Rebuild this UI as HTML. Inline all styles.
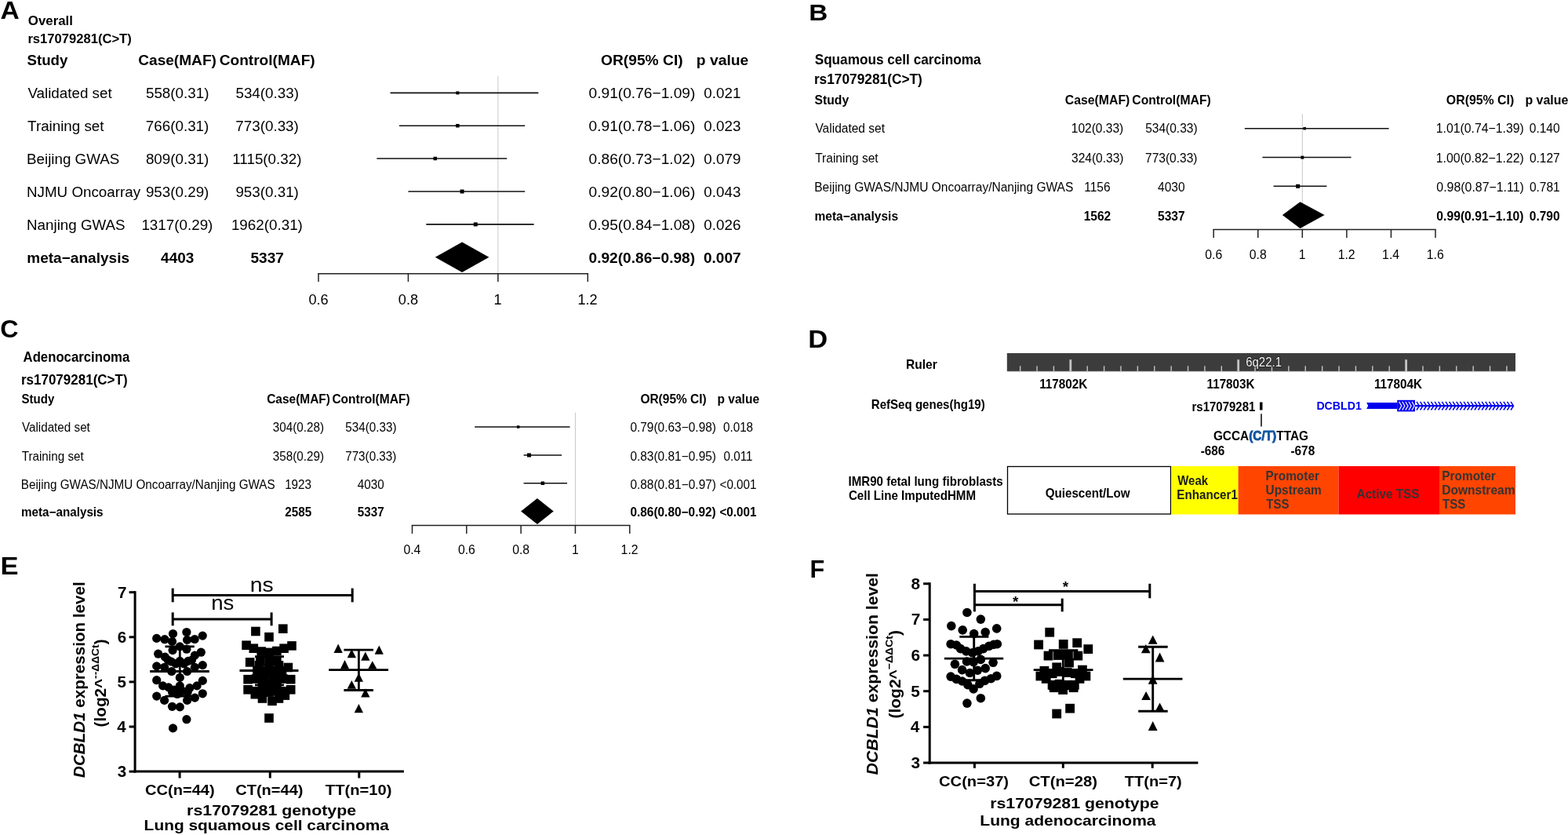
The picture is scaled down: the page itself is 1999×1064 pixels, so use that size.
<!DOCTYPE html>
<html><head><meta charset="utf-8"><title>Figure</title>
<style>html,body{margin:0;padding:0;background:#fff;overflow:hidden;width:1999px;height:1064px;} svg{display:block;}</style></head>
<body><svg width="1999" height="1064" viewBox="0 0 1999 1064" font-family='"Liberation Sans", Arial, Helvetica, sans-serif' fill="#000">
<rect width="1999" height="1064" fill="#fff"/>
<text x="0.41" y="24.00" font-size="31.5" font-weight="bold" textLength="24.25" lengthAdjust="spacingAndGlyphs">A</text>
<text x="35.83" y="32.00" font-size="16.4" font-weight="bold" textLength="57.12" lengthAdjust="spacingAndGlyphs">Overall</text>
<text x="35.42" y="54.50" font-size="16.4" font-weight="bold" textLength="132.37" lengthAdjust="spacingAndGlyphs">rs17079281(C&gt;T)</text>
<text x="34.44" y="83.25" font-size="18.8" font-weight="bold" textLength="51.96" lengthAdjust="spacingAndGlyphs">Study</text>
<text x="176.24" y="83.25" font-size="18.8" font-weight="bold" textLength="99.68" lengthAdjust="spacingAndGlyphs">Case(MAF)</text>
<text x="279.74" y="83.25" font-size="18.8" font-weight="bold" textLength="121.91" lengthAdjust="spacingAndGlyphs">Control(MAF)</text>
<text x="766.03" y="82.90" font-size="18.8" font-weight="bold" textLength="104.64" lengthAdjust="spacingAndGlyphs">OR(95% CI)</text>
<text x="887.74" y="82.90" font-size="18.8" font-weight="bold" textLength="66.55" lengthAdjust="spacingAndGlyphs">p value</text>
<line x1="634.88" y1="97.00" x2="634.88" y2="348.70" stroke="#c8c8c8" stroke-width="1"/>
<text x="35.41" y="125.00" font-size="18.8">Validated set</text>
<text x="185.96" y="125.00" font-size="18.8" textLength="80.48" lengthAdjust="spacingAndGlyphs">558(0.31)</text>
<text x="300.46" y="125.00" font-size="18.8" textLength="80.48" lengthAdjust="spacingAndGlyphs">534(0.33)</text>
<text x="750.53" y="125.00" font-size="18.8" textLength="135.89" lengthAdjust="spacingAndGlyphs">0.91(0.76−1.09)</text>
<text x="897.34" y="125.00" font-size="18.8" textLength="47.05" lengthAdjust="spacingAndGlyphs">0.021</text>
<line x1="497.55" y1="118.40" x2="686.38" y2="118.40" stroke="#111" stroke-width="1.6"/>
<rect x="581.38" y="116.40" width="4.00" height="4.00" fill="#000" />
<text x="35.12" y="167.00" font-size="18.8">Training set</text>
<text x="185.86" y="167.00" font-size="18.8" textLength="80.48" lengthAdjust="spacingAndGlyphs">766(0.31)</text>
<text x="300.36" y="167.00" font-size="18.8" textLength="80.48" lengthAdjust="spacingAndGlyphs">773(0.33)</text>
<text x="750.53" y="167.00" font-size="18.8" textLength="135.89" lengthAdjust="spacingAndGlyphs">0.91(0.78−1.06)</text>
<text x="897.30" y="167.00" font-size="18.8" textLength="47.05" lengthAdjust="spacingAndGlyphs">0.023</text>
<line x1="509.00" y1="160.20" x2="669.21" y2="160.20" stroke="#111" stroke-width="1.6"/>
<rect x="581.13" y="157.95" width="4.50" height="4.50" fill="#000" />
<text x="34.00" y="209.30" font-size="18.8">Beijing GWAS</text>
<text x="185.91" y="209.30" font-size="18.8" textLength="80.48" lengthAdjust="spacingAndGlyphs">809(0.31)</text>
<text x="296.32" y="209.30" font-size="18.8" textLength="88.15" lengthAdjust="spacingAndGlyphs">1115(0.32)</text>
<text x="750.53" y="209.30" font-size="18.8" textLength="135.89" lengthAdjust="spacingAndGlyphs">0.86(0.73−1.02)</text>
<text x="897.30" y="209.30" font-size="18.8" textLength="47.05" lengthAdjust="spacingAndGlyphs">0.079</text>
<line x1="480.39" y1="202.00" x2="646.32" y2="202.00" stroke="#111" stroke-width="1.6"/>
<rect x="552.52" y="199.75" width="4.50" height="4.50" fill="#000" />
<text x="34.00" y="251.30" font-size="18.8">NJMU Oncoarray</text>
<text x="185.91" y="251.30" font-size="18.8" textLength="80.48" lengthAdjust="spacingAndGlyphs">953(0.29)</text>
<text x="300.41" y="251.30" font-size="18.8" textLength="80.48" lengthAdjust="spacingAndGlyphs">953(0.31)</text>
<text x="750.53" y="251.30" font-size="18.8" textLength="135.89" lengthAdjust="spacingAndGlyphs">0.92(0.80−1.06)</text>
<text x="897.30" y="251.30" font-size="18.8" textLength="47.05" lengthAdjust="spacingAndGlyphs">0.043</text>
<line x1="520.44" y1="244.00" x2="669.21" y2="244.00" stroke="#111" stroke-width="1.6"/>
<rect x="586.60" y="241.50" width="5.00" height="5.00" fill="#000" />
<text x="34.00" y="293.10" font-size="18.8">Nanjing GWAS</text>
<text x="180.41" y="293.10" font-size="18.8" textLength="90.94" lengthAdjust="spacingAndGlyphs">1317(0.29)</text>
<text x="294.91" y="293.10" font-size="18.8" textLength="90.94" lengthAdjust="spacingAndGlyphs">1962(0.31)</text>
<text x="750.53" y="293.10" font-size="18.8" textLength="135.89" lengthAdjust="spacingAndGlyphs">0.95(0.84−1.08)</text>
<text x="897.30" y="293.10" font-size="18.8" textLength="47.05" lengthAdjust="spacingAndGlyphs">0.026</text>
<line x1="543.33" y1="285.90" x2="680.66" y2="285.90" stroke="#111" stroke-width="1.6"/>
<rect x="603.77" y="283.40" width="5.00" height="5.00" fill="#000" />
<text x="34.26" y="334.60" font-size="18.8" font-weight="bold" textLength="130.77" lengthAdjust="spacingAndGlyphs">meta−analysis</text>
<text x="205.09" y="334.60" font-size="18.8" font-weight="bold" textLength="42.19" lengthAdjust="spacingAndGlyphs">4403</text>
<text x="319.43" y="334.60" font-size="18.8" font-weight="bold" textLength="42.42" lengthAdjust="spacingAndGlyphs">5337</text>
<text x="750.53" y="334.60" font-size="18.8" font-weight="bold" textLength="135.60" lengthAdjust="spacingAndGlyphs">0.92(0.86−0.98)</text>
<text x="896.99" y="334.60" font-size="18.8" font-weight="bold" textLength="47.67" lengthAdjust="spacingAndGlyphs">0.007</text>
<path d="M554.77,327.8 L589.10,308.6 L623.44,327.8 L589.10,347 Z" fill="#000" />
<line x1="405.25" y1="348.70" x2="750.07" y2="348.70" stroke="#222" stroke-width="1.5"/>
<line x1="406.00" y1="348.70" x2="406.00" y2="359.00" stroke="#222" stroke-width="1.5"/>
<text x="393.40" y="388.00" font-size="18.2" textLength="25.30" lengthAdjust="spacingAndGlyphs">0.6</text>
<line x1="520.44" y1="348.70" x2="520.44" y2="359.00" stroke="#222" stroke-width="1.5"/>
<text x="507.79" y="388.00" font-size="18.2" textLength="25.30" lengthAdjust="spacingAndGlyphs">0.8</text>
<line x1="634.88" y1="348.70" x2="634.88" y2="359.00" stroke="#222" stroke-width="1.5"/>
<text x="629.60" y="388.00" font-size="18.2" textLength="10.12" lengthAdjust="spacingAndGlyphs">1</text>
<line x1="749.32" y1="348.70" x2="749.32" y2="359.00" stroke="#222" stroke-width="1.5"/>
<text x="736.44" y="388.00" font-size="18.2" textLength="25.30" lengthAdjust="spacingAndGlyphs">1.2</text>
<text x="1031.34" y="26.00" font-size="29" font-weight="bold" textLength="24.03" lengthAdjust="spacingAndGlyphs">B</text>
<text x="1038.68" y="81.80" font-size="18.4" font-weight="bold" textLength="211.90" lengthAdjust="spacingAndGlyphs">Squamous cell carcinoma</text>
<text x="1037.88" y="107.20" font-size="18.4" font-weight="bold" textLength="137.95" lengthAdjust="spacingAndGlyphs">rs17079281(C&gt;T)</text>
<text x="1038.53" y="132.50" font-size="16.5" font-weight="bold" textLength="43.60" lengthAdjust="spacingAndGlyphs">Study</text>
<text x="1357.77" y="132.50" font-size="16.5" font-weight="bold" textLength="82.59" lengthAdjust="spacingAndGlyphs">Case(MAF)</text>
<text x="1443.27" y="132.50" font-size="16.5" font-weight="bold" textLength="100.47" lengthAdjust="spacingAndGlyphs">Control(MAF)</text>
<text x="1843.87" y="133.00" font-size="16.5" font-weight="bold" textLength="86.33" lengthAdjust="spacingAndGlyphs">OR(95% CI)</text>
<text x="1944.47" y="133.00" font-size="16.5" font-weight="bold" textLength="54.80" lengthAdjust="spacingAndGlyphs">p value</text>
<line x1="1660.32" y1="145.00" x2="1660.32" y2="292.50" stroke="#c8c8c8" stroke-width="1"/>
<text x="1039.42" y="169.20" font-size="16.3" textLength="88.57" lengthAdjust="spacingAndGlyphs">Validated set</text>
<text x="1365.78" y="169.20" font-size="16.3" textLength="66.43" lengthAdjust="spacingAndGlyphs">102(0.33)</text>
<text x="1460.15" y="169.20" font-size="16.3" textLength="66.43" lengthAdjust="spacingAndGlyphs">534(0.33)</text>
<text x="1830.82" y="169.20" font-size="16.3" textLength="112.00" lengthAdjust="spacingAndGlyphs">1.01(0.74−1.39)</text>
<text x="1949.80" y="169.20" font-size="16.3" textLength="38.83" lengthAdjust="spacingAndGlyphs">0.140</text>
<line x1="1586.79" y1="163.70" x2="1770.61" y2="163.70" stroke="#111" stroke-width="1.5"/>
<rect x="1661.40" y="161.95" width="3.50" height="3.50" fill="#000" />
<text x="1039.19" y="206.60" font-size="16.3" textLength="80.50" lengthAdjust="spacingAndGlyphs">Training set</text>
<text x="1366.05" y="206.60" font-size="16.3" textLength="66.43" lengthAdjust="spacingAndGlyphs">324(0.33)</text>
<text x="1460.07" y="206.60" font-size="16.3" textLength="66.43" lengthAdjust="spacingAndGlyphs">773(0.33)</text>
<text x="1830.82" y="206.60" font-size="16.3" textLength="112.00" lengthAdjust="spacingAndGlyphs">1.00(0.82−1.22)</text>
<text x="1949.88" y="206.60" font-size="16.3" textLength="38.83" lengthAdjust="spacingAndGlyphs">0.127</text>
<line x1="1609.42" y1="200.60" x2="1722.54" y2="200.60" stroke="#111" stroke-width="1.5"/>
<rect x="1658.32" y="198.60" width="4.00" height="4.00" fill="#000" />
<text x="1038.26" y="243.60" font-size="16.3" textLength="329.99" lengthAdjust="spacingAndGlyphs">Beijing GWAS/NJMU Oncoarray/Nanjing GWAS</text>
<text x="1382.19" y="243.60" font-size="16.3" textLength="33.37" lengthAdjust="spacingAndGlyphs">1156</text>
<text x="1476.05" y="243.60" font-size="16.3" textLength="34.52" lengthAdjust="spacingAndGlyphs">4030</text>
<text x="1831.36" y="243.60" font-size="16.3" textLength="111.47" lengthAdjust="spacingAndGlyphs">0.98(0.87−1.11)</text>
<text x="1949.88" y="243.60" font-size="16.3" textLength="38.83" lengthAdjust="spacingAndGlyphs">0.781</text>
<line x1="1623.56" y1="237.30" x2="1691.43" y2="237.30" stroke="#111" stroke-width="1.5"/>
<rect x="1652.16" y="234.80" width="5.00" height="5.00" fill="#000" />
<text x="1038.49" y="280.60" font-size="16.3" font-weight="bold" textLength="106.54" lengthAdjust="spacingAndGlyphs">meta−analysis</text>
<text x="1381.64" y="280.60" font-size="16.3" font-weight="bold" textLength="34.52" lengthAdjust="spacingAndGlyphs">1562</text>
<text x="1476.05" y="280.60" font-size="16.3" font-weight="bold" textLength="34.52" lengthAdjust="spacingAndGlyphs">5337</text>
<text x="1831.37" y="280.60" font-size="16.3" font-weight="bold" textLength="111.20" lengthAdjust="spacingAndGlyphs">0.99(0.91−1.10)</text>
<text x="1949.80" y="280.60" font-size="16.3" font-weight="bold" textLength="38.83" lengthAdjust="spacingAndGlyphs">0.790</text>
<path d="M1634.87,274.1 L1657.49,257.3 L1688.60,274.1 L1657.49,291 Z" fill="#000" />
<line x1="1546.45" y1="292.50" x2="1830.75" y2="292.50" stroke="#222" stroke-width="1.5"/>
<line x1="1547.20" y1="292.50" x2="1547.20" y2="303.00" stroke="#222" stroke-width="1.5"/>
<text x="1536.26" y="329.70" font-size="15.8" textLength="21.96" lengthAdjust="spacingAndGlyphs">0.6</text>
<line x1="1603.76" y1="292.50" x2="1603.76" y2="303.00" stroke="#222" stroke-width="1.5"/>
<text x="1592.78" y="329.70" font-size="15.8" textLength="21.96" lengthAdjust="spacingAndGlyphs">0.8</text>
<line x1="1660.32" y1="292.50" x2="1660.32" y2="303.00" stroke="#222" stroke-width="1.5"/>
<text x="1655.74" y="329.70" font-size="15.8" textLength="8.79" lengthAdjust="spacingAndGlyphs">1</text>
<line x1="1716.88" y1="292.50" x2="1716.88" y2="303.00" stroke="#222" stroke-width="1.5"/>
<text x="1705.70" y="329.70" font-size="15.8" textLength="21.96" lengthAdjust="spacingAndGlyphs">1.2</text>
<line x1="1773.44" y1="292.50" x2="1773.44" y2="303.00" stroke="#222" stroke-width="1.5"/>
<text x="1762.10" y="329.70" font-size="15.8" textLength="21.96" lengthAdjust="spacingAndGlyphs">1.4</text>
<line x1="1830.00" y1="292.50" x2="1830.00" y2="303.00" stroke="#222" stroke-width="1.5"/>
<text x="1818.78" y="329.70" font-size="15.8" textLength="21.96" lengthAdjust="spacingAndGlyphs">1.6</text>
<text x="0.21" y="430.00" font-size="31.5" font-weight="bold" textLength="23.26" lengthAdjust="spacingAndGlyphs">C</text>
<text x="29.58" y="461.00" font-size="17.5" font-weight="bold" textLength="135.71" lengthAdjust="spacingAndGlyphs">Adenocarcinoma</text>
<text x="26.89" y="490.20" font-size="17.5" font-weight="bold" textLength="135.72" lengthAdjust="spacingAndGlyphs">rs17079281(C&gt;T)</text>
<text x="27.55" y="514.30" font-size="16" font-weight="bold" textLength="41.77" lengthAdjust="spacingAndGlyphs">Study</text>
<text x="340.18" y="514.30" font-size="16" font-weight="bold" textLength="80.76" lengthAdjust="spacingAndGlyphs">Case(MAF)</text>
<text x="423.38" y="514.30" font-size="16" font-weight="bold" textLength="99.25" lengthAdjust="spacingAndGlyphs">Control(MAF)</text>
<text x="816.38" y="513.75" font-size="16" font-weight="bold" textLength="84.40" lengthAdjust="spacingAndGlyphs">OR(95% CI)</text>
<text x="914.49" y="513.75" font-size="16" font-weight="bold" textLength="53.57" lengthAdjust="spacingAndGlyphs">p value</text>
<line x1="733.46" y1="525.75" x2="733.46" y2="669.50" stroke="#c8c8c8" stroke-width="1"/>
<text x="27.92" y="550.40" font-size="16" textLength="86.94" lengthAdjust="spacingAndGlyphs">Validated set</text>
<text x="347.86" y="550.40" font-size="16" textLength="65.21" lengthAdjust="spacingAndGlyphs">304(0.28)</text>
<text x="440.26" y="550.40" font-size="16" textLength="65.21" lengthAdjust="spacingAndGlyphs">534(0.33)</text>
<text x="803.38" y="550.40" font-size="16" textLength="109.61" lengthAdjust="spacingAndGlyphs">0.79(0.63−0.98)</text>
<text x="921.96" y="550.40" font-size="16" textLength="38.12" lengthAdjust="spacingAndGlyphs">0.018</text>
<line x1="605.22" y1="544.00" x2="726.53" y2="544.00" stroke="#111" stroke-width="1.5"/>
<rect x="658.92" y="542.25" width="3.50" height="3.50" fill="#000" />
<text x="27.70" y="586.50" font-size="16" textLength="79.02" lengthAdjust="spacingAndGlyphs">Training set</text>
<text x="347.86" y="586.50" font-size="16" textLength="65.21" lengthAdjust="spacingAndGlyphs">358(0.29)</text>
<text x="440.18" y="586.50" font-size="16" textLength="65.21" lengthAdjust="spacingAndGlyphs">773(0.33)</text>
<text x="803.38" y="586.50" font-size="16" textLength="109.61" lengthAdjust="spacingAndGlyphs">0.83(0.81−0.95)</text>
<text x="922.61" y="586.50" font-size="16" textLength="36.99" lengthAdjust="spacingAndGlyphs">0.011</text>
<line x1="667.61" y1="580.00" x2="716.13" y2="580.00" stroke="#111" stroke-width="1.5"/>
<rect x="672.04" y="577.50" width="5.00" height="5.00" fill="#000" />
<text x="26.78" y="622.60" font-size="16" textLength="323.92" lengthAdjust="spacingAndGlyphs">Beijing GWAS/NJMU Oncoarray/Nanjing GWAS</text>
<text x="363.13" y="622.60" font-size="16" textLength="33.89" lengthAdjust="spacingAndGlyphs">1923</text>
<text x="455.87" y="622.60" font-size="16" textLength="33.89" lengthAdjust="spacingAndGlyphs">4030</text>
<text x="803.38" y="622.60" font-size="16" textLength="109.61" lengthAdjust="spacingAndGlyphs">0.88(0.81−0.97)</text>
<text x="917.50" y="622.60" font-size="16" textLength="47.01" lengthAdjust="spacingAndGlyphs">&lt;0.001</text>
<line x1="667.61" y1="615.75" x2="723.06" y2="615.75" stroke="#111" stroke-width="1.5"/>
<rect x="689.62" y="613.50" width="4.50" height="4.50" fill="#000" />
<text x="27.01" y="658.00" font-size="16" font-weight="bold" textLength="104.58" lengthAdjust="spacingAndGlyphs">meta−analysis</text>
<text x="363.28" y="658.00" font-size="16" font-weight="bold" textLength="33.89" lengthAdjust="spacingAndGlyphs">2585</text>
<text x="455.87" y="658.00" font-size="16" font-weight="bold" textLength="33.89" lengthAdjust="spacingAndGlyphs">5337</text>
<text x="803.38" y="658.00" font-size="16" font-weight="bold" textLength="109.37" lengthAdjust="spacingAndGlyphs">0.86(0.80−0.92)</text>
<text x="917.39" y="658.00" font-size="16" font-weight="bold" textLength="47.01" lengthAdjust="spacingAndGlyphs">&lt;0.001</text>
<path d="M664.14,651.5 L684.94,635 L705.73,651.5 L684.94,668 Z" fill="#000" />
<line x1="524.75" y1="669.50" x2="803.53" y2="669.50" stroke="#222" stroke-width="1.5"/>
<line x1="525.50" y1="669.50" x2="525.50" y2="680.00" stroke="#222" stroke-width="1.5"/>
<text x="514.44" y="705.75" font-size="15.8" textLength="21.96" lengthAdjust="spacingAndGlyphs">0.4</text>
<line x1="594.82" y1="669.50" x2="594.82" y2="680.00" stroke="#222" stroke-width="1.5"/>
<text x="583.88" y="705.75" font-size="15.8" textLength="21.96" lengthAdjust="spacingAndGlyphs">0.6</text>
<line x1="664.14" y1="669.50" x2="664.14" y2="680.00" stroke="#222" stroke-width="1.5"/>
<text x="653.16" y="705.75" font-size="15.8" textLength="21.96" lengthAdjust="spacingAndGlyphs">0.8</text>
<line x1="733.46" y1="669.50" x2="733.46" y2="680.00" stroke="#222" stroke-width="1.5"/>
<text x="728.88" y="705.75" font-size="15.8" textLength="8.79" lengthAdjust="spacingAndGlyphs">1</text>
<line x1="802.78" y1="669.50" x2="802.78" y2="680.00" stroke="#222" stroke-width="1.5"/>
<text x="791.60" y="705.75" font-size="15.8" textLength="21.96" lengthAdjust="spacingAndGlyphs">1.2</text>
<text x="1030.25" y="442.50" font-size="31.5" font-weight="bold" textLength="24.95" lengthAdjust="spacingAndGlyphs">D</text>
<text x="1154.99" y="470.00" font-size="15.7" font-weight="bold" textLength="39.76" lengthAdjust="spacingAndGlyphs">Ruler</text>
<rect x="1283.80" y="450.00" width="648.20" height="23.00" fill="#3c3c3c" />
<rect x="1283.80" y="472.90" width="648.20" height="1.20" fill="#c8c8c8" />
<rect x="1299.93" y="466.30" width="1.40" height="7.00" fill="#c4c4c4" />
<rect x="1321.32" y="466.30" width="1.40" height="7.00" fill="#c4c4c4" />
<rect x="1342.71" y="466.30" width="1.40" height="7.00" fill="#c4c4c4" />
<rect x="1363.40" y="458.20" width="2.80" height="15.00" fill="#c4c4c4" />
<rect x="1385.49" y="466.30" width="1.40" height="7.00" fill="#c4c4c4" />
<rect x="1406.88" y="466.30" width="1.40" height="7.00" fill="#c4c4c4" />
<rect x="1428.27" y="466.30" width="1.40" height="7.00" fill="#c4c4c4" />
<rect x="1449.66" y="466.30" width="1.40" height="7.00" fill="#c4c4c4" />
<rect x="1471.05" y="466.30" width="1.40" height="7.00" fill="#c4c4c4" />
<rect x="1492.44" y="466.30" width="1.40" height="7.00" fill="#c4c4c4" />
<rect x="1513.83" y="466.30" width="1.40" height="7.00" fill="#c4c4c4" />
<rect x="1535.22" y="466.30" width="1.40" height="7.00" fill="#c4c4c4" />
<rect x="1556.61" y="466.30" width="1.40" height="7.00" fill="#c4c4c4" />
<rect x="1577.30" y="458.20" width="2.80" height="15.00" fill="#c4c4c4" />
<rect x="1599.39" y="466.30" width="1.40" height="7.00" fill="#c4c4c4" />
<rect x="1620.78" y="466.30" width="1.40" height="7.00" fill="#c4c4c4" />
<rect x="1642.17" y="466.30" width="1.40" height="7.00" fill="#c4c4c4" />
<rect x="1663.56" y="466.30" width="1.40" height="7.00" fill="#c4c4c4" />
<rect x="1684.95" y="466.30" width="1.40" height="7.00" fill="#c4c4c4" />
<rect x="1706.34" y="466.30" width="1.40" height="7.00" fill="#c4c4c4" />
<rect x="1727.73" y="466.30" width="1.40" height="7.00" fill="#c4c4c4" />
<rect x="1749.12" y="466.30" width="1.40" height="7.00" fill="#c4c4c4" />
<rect x="1770.51" y="466.30" width="1.40" height="7.00" fill="#c4c4c4" />
<rect x="1791.20" y="458.20" width="2.80" height="15.00" fill="#c4c4c4" />
<rect x="1813.29" y="466.30" width="1.40" height="7.00" fill="#c4c4c4" />
<rect x="1834.68" y="466.30" width="1.40" height="7.00" fill="#c4c4c4" />
<rect x="1856.07" y="466.30" width="1.40" height="7.00" fill="#c4c4c4" />
<rect x="1877.46" y="466.30" width="1.40" height="7.00" fill="#c4c4c4" />
<rect x="1898.85" y="466.30" width="1.40" height="7.00" fill="#c4c4c4" />
<rect x="1920.24" y="466.30" width="1.40" height="7.00" fill="#c4c4c4" />
<text x="1588.15" y="467.00" font-size="15.6" fill="#f4f4f4" textLength="45.88" lengthAdjust="spacingAndGlyphs" stroke="#1e1e1e" stroke-width="1.6" paint-order="stroke" stroke-linejoin="round">6q22.1</text>
<text x="1325.21" y="495.00" font-size="15.7" font-weight="bold" textLength="61.21" lengthAdjust="spacingAndGlyphs">117802K</text>
<text x="1538.51" y="495.00" font-size="15.7" font-weight="bold" textLength="61.11" lengthAdjust="spacingAndGlyphs">117803K</text>
<text x="1751.91" y="495.00" font-size="15.7" font-weight="bold" textLength="61.11" lengthAdjust="spacingAndGlyphs">117804K</text>
<text x="1110.77" y="521.25" font-size="15.7" font-weight="bold" textLength="144.96" lengthAdjust="spacingAndGlyphs">RefSeq genes(hg19)</text>
<text x="1519.53" y="523.75" font-size="15.7" font-weight="bold" textLength="80.84" lengthAdjust="spacingAndGlyphs">rs17079281</text>
<rect x="1606.00" y="512.50" width="3.50" height="10.00" fill="#000" />
<line x1="1608.00" y1="527.20" x2="1608.00" y2="543.60" stroke="#000" stroke-width="1.5"/>
<text x="1546.88" y="561.25" font-size="15.7" font-weight="bold" textLength="121.10" lengthAdjust="spacingAndGlyphs">GCCA<tspan fill="#0f54a2" stroke="#0f54a2" stroke-width="0.8">(C/T)</tspan>TTAG</text>
<text x="1530.64" y="579.50" font-size="15.7" font-weight="bold" textLength="30.67" lengthAdjust="spacingAndGlyphs">-686</text>
<text x="1645.38" y="579.50" font-size="15.7" font-weight="bold" textLength="30.85" lengthAdjust="spacingAndGlyphs">-678</text>
<text x="1678.38" y="522.30" font-size="14.2" font-weight="bold" fill="#0000ee" textLength="57.49" lengthAdjust="spacingAndGlyphs">DCBLD1</text>
<path d="M1742.2,513.1 L1781.3,513.1 L1781.3,521.1 L1742.2,521.1 L1744.2,517.1 Z" fill="#0000ee" />
<rect x="1781.20" y="509.80" width="22.80" height="14.60" fill="#0000ee" />
<line x1="1803.50" y1="517.20" x2="1929.20" y2="517.20" stroke="#0000ee" stroke-width="2.2"/>
<path d="M1806.0,511.9 L1809.4,517.2 L1806.0,522.5 M1810.6,511.9 L1814.0,517.2 L1810.6,522.5 M1815.2,511.9 L1818.6,517.2 L1815.2,522.5 M1819.9,511.9 L1823.3,517.2 L1819.9,522.5 M1824.5,511.9 L1827.9,517.2 L1824.5,522.5 M1829.1,511.9 L1832.5,517.2 L1829.1,522.5 M1833.7,511.9 L1837.1,517.2 L1833.7,522.5 M1838.3,511.9 L1841.7,517.2 L1838.3,522.5 M1843.0,511.9 L1846.4,517.2 L1843.0,522.5 M1847.6,511.9 L1851.0,517.2 L1847.6,522.5 M1852.2,511.9 L1855.6,517.2 L1852.2,522.5 M1856.8,511.9 L1860.2,517.2 L1856.8,522.5 M1861.4,511.9 L1864.8,517.2 L1861.4,522.5 M1866.1,511.9 L1869.5,517.2 L1866.1,522.5 M1870.7,511.9 L1874.1,517.2 L1870.7,522.5 M1875.3,511.9 L1878.7,517.2 L1875.3,522.5 M1879.9,511.9 L1883.3,517.2 L1879.9,522.5 M1884.5,511.9 L1887.9,517.2 L1884.5,522.5 M1889.2,511.9 L1892.6,517.2 L1889.2,522.5 M1893.8,511.9 L1897.2,517.2 L1893.8,522.5 M1898.4,511.9 L1901.8,517.2 L1898.4,522.5 M1903.0,511.9 L1906.4,517.2 L1903.0,522.5 M1907.6,511.9 L1911.0,517.2 L1907.6,522.5 M1912.3,511.9 L1915.7,517.2 L1912.3,522.5 M1916.9,511.9 L1920.3,517.2 L1916.9,522.5 M1921.5,511.9 L1924.9,517.2 L1921.5,522.5 M1926.1,511.9 L1929.5,517.2 L1926.1,522.5" fill="none" stroke="#0000ee" stroke-width="1.5"/>
<path d="M1783.6,511.8 L1786.8,517.2 L1783.6,522.6 M1787.7,511.8 L1790.9,517.2 L1787.7,522.6 M1791.8,511.8 L1795.0,517.2 L1791.8,522.6 M1795.9,511.8 L1799.1,517.2 L1795.9,522.6 M1800.0,511.8 L1803.2,517.2 L1800.0,522.6" fill="none" stroke="#ffffff" stroke-width="1.2"/>
<rect x="1284.50" y="594.50" width="208.00" height="60.50" fill="#ffffff" stroke="#000" stroke-width="1.3"/>
<rect x="1493.20" y="594.00" width="85.40" height="61.50" fill="#ffff00" />
<rect x="1578.60" y="594.00" width="127.90" height="61.50" fill="#ff4500" />
<rect x="1706.50" y="594.00" width="128.50" height="61.50" fill="#ff0000" />
<rect x="1835.00" y="594.00" width="97.00" height="61.50" fill="#ff4500" />
<text x="1081.52" y="618.75" font-size="15.7" font-weight="bold" textLength="197.12" lengthAdjust="spacingAndGlyphs">IMR90 fetal lung fibroblasts</text>
<text x="1081.90" y="637.00" font-size="15.7" font-weight="bold" textLength="162.12" lengthAdjust="spacingAndGlyphs">Cell Line ImputedHMM</text>
<text x="1332.64" y="634.25" font-size="15.7" font-weight="bold" textLength="108.07" lengthAdjust="spacingAndGlyphs">Quiescent/Low</text>
<text x="1501.25" y="618.00" font-size="15.7" font-weight="bold" fill="#1a1a1a" textLength="38.74" lengthAdjust="spacingAndGlyphs">Weak</text>
<text x="1500.26" y="636.25" font-size="15.7" font-weight="bold" fill="#1a1a1a" textLength="77.67" lengthAdjust="spacingAndGlyphs">Enhancer1</text>
<text x="1613.50" y="612.00" font-size="15.7" font-weight="bold" fill="#333" textLength="68.44" lengthAdjust="spacingAndGlyphs">Promoter</text>
<text x="1613.58" y="630.00" font-size="15.7" font-weight="bold" fill="#333" textLength="71.09" lengthAdjust="spacingAndGlyphs">Upstream</text>
<text x="1614.35" y="647.50" font-size="15.7" font-weight="bold" fill="#333" textLength="29.17" lengthAdjust="spacingAndGlyphs">TSS</text>
<text x="1729.62" y="634.50" font-size="15.7" font-weight="bold" fill="#333" textLength="79.73" lengthAdjust="spacingAndGlyphs">Active TSS</text>
<text x="1838.25" y="612.00" font-size="15.7" font-weight="bold" fill="#333" textLength="68.49" lengthAdjust="spacingAndGlyphs">Promoter</text>
<text x="1838.24" y="630.00" font-size="15.7" font-weight="bold" fill="#333" textLength="93.30" lengthAdjust="spacingAndGlyphs">Downstream</text>
<text x="1839.10" y="647.50" font-size="15.7" font-weight="bold" fill="#333" textLength="29.23" lengthAdjust="spacingAndGlyphs">TSS</text>
<text x="0.46" y="731.50" font-size="31.5" font-weight="bold" textLength="23.02" lengthAdjust="spacingAndGlyphs">E</text>
<line x1="172.10" y1="753.20" x2="172.10" y2="984.60" stroke="#000" stroke-width="3"/>
<line x1="170.60" y1="983.10" x2="514.90" y2="983.10" stroke="#000" stroke-width="3"/>
<line x1="164.60" y1="983.10" x2="172.10" y2="983.10" stroke="#000" stroke-width="3"/>
<text x="149.79" y="990.10" font-size="20.6" font-weight="bold" textLength="11.46" lengthAdjust="spacingAndGlyphs">3</text>
<line x1="164.60" y1="926.00" x2="172.10" y2="926.00" stroke="#000" stroke-width="3"/>
<text x="149.17" y="933.00" font-size="20.6" font-weight="bold" textLength="11.46" lengthAdjust="spacingAndGlyphs">4</text>
<line x1="164.60" y1="868.90" x2="172.10" y2="868.90" stroke="#000" stroke-width="3"/>
<text x="149.58" y="875.90" font-size="20.6" font-weight="bold" textLength="11.46" lengthAdjust="spacingAndGlyphs">5</text>
<line x1="164.60" y1="811.80" x2="172.10" y2="811.80" stroke="#000" stroke-width="3"/>
<text x="149.79" y="818.80" font-size="20.6" font-weight="bold" textLength="11.46" lengthAdjust="spacingAndGlyphs">6</text>
<line x1="164.60" y1="754.70" x2="172.10" y2="754.70" stroke="#000" stroke-width="3"/>
<text x="149.99" y="761.70" font-size="20.6" font-weight="bold" textLength="11.46" lengthAdjust="spacingAndGlyphs">7</text>
<line x1="229.10" y1="983.10" x2="229.10" y2="991.50" stroke="#000" stroke-width="3"/>
<line x1="344.30" y1="983.10" x2="344.30" y2="991.50" stroke="#000" stroke-width="3"/>
<line x1="457.80" y1="983.10" x2="457.80" y2="991.50" stroke="#000" stroke-width="3"/>
<text x="185.00" y="1013.00" font-size="19" font-weight="bold" textLength="88.66" lengthAdjust="spacingAndGlyphs">CC(n=44)</text>
<text x="300.20" y="1013.00" font-size="19" font-weight="bold" textLength="86.33" lengthAdjust="spacingAndGlyphs">CT(n=44)</text>
<text x="414.80" y="1013.00" font-size="19" font-weight="bold" textLength="84.71" lengthAdjust="spacingAndGlyphs">TT(n=10)</text>
<text x="238.11" y="1038.70" font-size="19" font-weight="bold" textLength="215.99" lengthAdjust="spacingAndGlyphs">rs17079281 genotype</text>
<text x="183.64" y="1058.20" font-size="19" font-weight="bold" textLength="312.22" lengthAdjust="spacingAndGlyphs">Lung squamous cell carcinoma</text>
<text transform="translate(107.7,866.2) rotate(-90)" text-anchor="middle" font-size="20" font-weight="bold" textLength="249.6" lengthAdjust="spacingAndGlyphs"><tspan font-style="italic">DCBLD1</tspan> expression level</text>
<text transform="translate(135.3,925.4) rotate(-90)" x="-1" font-size="19.5" font-weight="bold" textLength="112" lengthAdjust="spacingAndGlyphs">(log2^<tspan font-size="13" dy="-9.3">--ΔΔCt</tspan><tspan dy="9.3">)</tspan></text>
<line x1="220.20" y1="758.60" x2="449.20" y2="758.60" stroke="#000" stroke-width="3"/>
<line x1="220.20" y1="749.60" x2="220.20" y2="767.30" stroke="#000" stroke-width="3"/>
<line x1="449.20" y1="749.60" x2="449.20" y2="767.30" stroke="#000" stroke-width="3"/>
<line x1="220.20" y1="789.00" x2="346.10" y2="789.00" stroke="#000" stroke-width="3"/>
<line x1="220.20" y1="780.40" x2="220.20" y2="797.30" stroke="#000" stroke-width="3"/>
<line x1="346.10" y1="780.40" x2="346.10" y2="797.30" stroke="#000" stroke-width="3"/>
<text x="318.66" y="753.90" font-size="25" textLength="29.97" lengthAdjust="spacingAndGlyphs">ns</text>
<text x="269.20" y="777.20" font-size="25" textLength="29.20" lengthAdjust="spacingAndGlyphs">ns</text>
<text x="1032.41" y="736.00" font-size="31.5" font-weight="bold" textLength="18.69" lengthAdjust="spacingAndGlyphs">F</text>
<line x1="1185.20" y1="742.30" x2="1185.20" y2="973.50" stroke="#000" stroke-width="3"/>
<line x1="1183.70" y1="972.00" x2="1527.40" y2="972.00" stroke="#000" stroke-width="3"/>
<line x1="1177.10" y1="972.00" x2="1185.20" y2="972.00" stroke="#000" stroke-width="3"/>
<text x="1161.48" y="978.80" font-size="20.8" font-weight="bold" textLength="11.57" lengthAdjust="spacingAndGlyphs">3</text>
<line x1="1177.10" y1="926.36" x2="1185.20" y2="926.36" stroke="#000" stroke-width="3"/>
<text x="1160.86" y="933.16" font-size="20.8" font-weight="bold" textLength="11.57" lengthAdjust="spacingAndGlyphs">4</text>
<line x1="1177.10" y1="880.72" x2="1185.20" y2="880.72" stroke="#000" stroke-width="3"/>
<text x="1161.28" y="887.52" font-size="20.8" font-weight="bold" textLength="11.57" lengthAdjust="spacingAndGlyphs">5</text>
<line x1="1177.10" y1="835.08" x2="1185.20" y2="835.08" stroke="#000" stroke-width="3"/>
<text x="1161.48" y="841.88" font-size="20.8" font-weight="bold" textLength="11.57" lengthAdjust="spacingAndGlyphs">6</text>
<line x1="1177.10" y1="789.44" x2="1185.20" y2="789.44" stroke="#000" stroke-width="3"/>
<text x="1161.69" y="796.24" font-size="20.8" font-weight="bold" textLength="11.57" lengthAdjust="spacingAndGlyphs">7</text>
<line x1="1177.10" y1="743.80" x2="1185.20" y2="743.80" stroke="#000" stroke-width="3"/>
<text x="1161.38" y="750.60" font-size="20.8" font-weight="bold" textLength="11.57" lengthAdjust="spacingAndGlyphs">8</text>
<line x1="1242.40" y1="972.00" x2="1242.40" y2="978.80" stroke="#000" stroke-width="3"/>
<line x1="1355.30" y1="972.00" x2="1355.30" y2="978.80" stroke="#000" stroke-width="3"/>
<line x1="1469.20" y1="972.00" x2="1469.20" y2="978.80" stroke="#000" stroke-width="3"/>
<text x="1197.09" y="1001.60" font-size="19" font-weight="bold" textLength="88.97" lengthAdjust="spacingAndGlyphs">CC(n=37)</text>
<text x="1311.69" y="1001.60" font-size="19" font-weight="bold" textLength="87.25" lengthAdjust="spacingAndGlyphs">CT(n=28)</text>
<text x="1433.80" y="1001.60" font-size="19" font-weight="bold" textLength="72.98" lengthAdjust="spacingAndGlyphs">TT(n=7)</text>
<text x="1262.22" y="1030.00" font-size="19" font-weight="bold" textLength="215.28" lengthAdjust="spacingAndGlyphs">rs17079281 genotype</text>
<text x="1249.33" y="1052.40" font-size="19" font-weight="bold" textLength="224.23" lengthAdjust="spacingAndGlyphs">Lung adenocarcinoma</text>
<text transform="translate(1119,858.7) rotate(-90)" text-anchor="middle" font-size="20" font-weight="bold" textLength="257.4" lengthAdjust="spacingAndGlyphs"><tspan font-style="italic">DCBLD1</tspan> expression level</text>
<text transform="translate(1147.7,914.6) rotate(-90)" x="-1" font-size="19.5" font-weight="bold" textLength="112.6" lengthAdjust="spacingAndGlyphs">(log2^<tspan font-size="13" dy="-9.3">−ΔΔCt</tspan><tspan dy="9.3">)</tspan></text>
<line x1="1242.40" y1="753.40" x2="1465.80" y2="753.40" stroke="#000" stroke-width="3"/>
<line x1="1242.40" y1="743.80" x2="1242.40" y2="779.40" stroke="#000" stroke-width="3"/>
<line x1="1465.80" y1="743.80" x2="1465.80" y2="762.30" stroke="#000" stroke-width="3"/>
<line x1="1242.40" y1="770.80" x2="1354.20" y2="770.80" stroke="#000" stroke-width="3"/>
<line x1="1354.20" y1="762.60" x2="1354.20" y2="779.40" stroke="#000" stroke-width="3"/>
<text x="1354.80" y="754.00" font-size="19" font-weight="bold" textLength="7.39" lengthAdjust="spacingAndGlyphs">*</text>
<text x="1291.00" y="773.00" font-size="19" font-weight="bold" textLength="7.39" lengthAdjust="spacingAndGlyphs">*</text>
<circle cx="220.5" cy="807.5" r="5.6"/>
<circle cx="237.9" cy="805.5" r="5.6"/>
<circle cx="199.7" cy="813.4" r="5.6"/>
<circle cx="210.0" cy="814.7" r="5.6"/>
<circle cx="258.3" cy="810.1" r="5.6"/>
<circle cx="248.2" cy="814.5" r="5.6"/>
<circle cx="238.6" cy="815.4" r="5.6"/>
<circle cx="219.5" cy="817.4" r="5.6"/>
<circle cx="220.1" cy="828.6" r="5.6"/>
<circle cx="229.3" cy="823.9" r="5.6"/>
<circle cx="237.9" cy="827.2" r="5.6"/>
<circle cx="201.7" cy="833.2" r="5.6"/>
<circle cx="210.3" cy="837.1" r="5.6"/>
<circle cx="256.3" cy="831.2" r="5.6"/>
<circle cx="248.4" cy="835.1" r="5.6"/>
<circle cx="218.2" cy="843.0" r="5.6"/>
<circle cx="229.3" cy="842.4" r="5.6"/>
<circle cx="239.9" cy="842.4" r="5.6"/>
<circle cx="199.7" cy="848.9" r="5.6"/>
<circle cx="209.6" cy="850.3" r="5.6"/>
<circle cx="258.3" cy="847.6" r="5.6"/>
<circle cx="248.4" cy="850.3" r="5.6"/>
<circle cx="218.8" cy="855.5" r="5.6"/>
<circle cx="238.6" cy="855.5" r="5.6"/>
<circle cx="229.3" cy="863.4" r="5.6"/>
<circle cx="199.7" cy="866.7" r="5.6"/>
<circle cx="258.3" cy="867.4" r="5.6"/>
<circle cx="207.6" cy="873.9" r="5.6"/>
<circle cx="214.9" cy="875.9" r="5.6"/>
<circle cx="222.1" cy="879.2" r="5.6"/>
<circle cx="241.8" cy="876.6" r="5.6"/>
<circle cx="251.1" cy="873.9" r="5.6"/>
<circle cx="232.6" cy="880.5" r="5.6"/>
<circle cx="229.3" cy="873.9" r="5.6"/>
<circle cx="199.7" cy="887.1" r="5.6"/>
<circle cx="209.6" cy="892.4" r="5.6"/>
<circle cx="258.3" cy="883.8" r="5.6"/>
<circle cx="248.4" cy="889.1" r="5.6"/>
<circle cx="238.6" cy="892.4" r="5.6"/>
<circle cx="219.5" cy="900.3" r="5.6"/>
<circle cx="229.3" cy="900.9" r="5.6"/>
<circle cx="237.9" cy="916.7" r="5.6"/>
<circle cx="220.5" cy="927.9" r="5.6"/>
<circle cx="226.1" cy="884.5" r="5.6"/>
<circle cx="224.1" cy="845.7" r="5.6"/>
<circle cx="234.6" cy="845.7" r="5.6"/>
<circle cx="219.5" cy="881.8" r="5.6"/>
<circle cx="239.2" cy="881.8" r="5.6"/>
<circle cx="214.2" cy="841.1" r="5.6"/>
<circle cx="244.5" cy="841.1" r="5.6"/>
<rect x="320.1" y="798.7" width="11.6" height="11.6"/>
<rect x="355.0" y="795.4" width="11.6" height="11.6"/>
<rect x="337.2" y="805.9" width="11.6" height="11.6"/>
<rect x="308.3" y="816.4" width="11.6" height="11.6"/>
<rect x="317.5" y="820.4" width="11.6" height="11.6"/>
<rect x="327.4" y="824.3" width="11.6" height="11.6"/>
<rect x="337.2" y="825.6" width="11.6" height="11.6"/>
<rect x="347.1" y="823.7" width="11.6" height="11.6"/>
<rect x="356.3" y="820.4" width="11.6" height="11.6"/>
<rect x="366.2" y="817.1" width="11.6" height="11.6"/>
<rect x="312.9" y="838.1" width="11.6" height="11.6"/>
<rect x="326.0" y="836.8" width="11.6" height="11.6"/>
<rect x="337.2" y="836.8" width="11.6" height="11.6"/>
<rect x="347.1" y="836.8" width="11.6" height="11.6"/>
<rect x="361.6" y="844.7" width="11.6" height="11.6"/>
<rect x="322.1" y="848.7" width="11.6" height="11.6"/>
<rect x="332.6" y="848.7" width="11.6" height="11.6"/>
<rect x="344.5" y="848.7" width="11.6" height="11.6"/>
<rect x="353.7" y="848.7" width="11.6" height="11.6"/>
<rect x="310.3" y="859.9" width="11.6" height="11.6"/>
<rect x="320.8" y="859.2" width="11.6" height="11.6"/>
<rect x="331.3" y="857.9" width="11.6" height="11.6"/>
<rect x="344.5" y="857.9" width="11.6" height="11.6"/>
<rect x="355.0" y="859.2" width="11.6" height="11.6"/>
<rect x="364.9" y="859.9" width="11.6" height="11.6"/>
<rect x="310.3" y="873.0" width="11.6" height="11.6"/>
<rect x="320.8" y="875.0" width="11.6" height="11.6"/>
<rect x="330.0" y="875.0" width="11.6" height="11.6"/>
<rect x="344.5" y="875.0" width="11.6" height="11.6"/>
<rect x="355.0" y="875.0" width="11.6" height="11.6"/>
<rect x="364.9" y="873.0" width="11.6" height="11.6"/>
<rect x="319.5" y="878.9" width="11.6" height="11.6"/>
<rect x="328.7" y="884.2" width="11.6" height="11.6"/>
<rect x="341.2" y="887.5" width="11.6" height="11.6"/>
<rect x="349.7" y="884.2" width="11.6" height="11.6"/>
<rect x="357.6" y="880.3" width="11.6" height="11.6"/>
<rect x="337.2" y="909.2" width="11.6" height="11.6"/>
<rect x="337.2" y="865.8" width="11.6" height="11.6"/>
<rect x="328.7" y="865.8" width="11.6" height="11.6"/>
<rect x="347.1" y="865.8" width="11.6" height="11.6"/>
<rect x="324.7" y="842.1" width="11.6" height="11.6"/>
<rect x="349.7" y="842.1" width="11.6" height="11.6"/>
<rect x="337.2" y="846.0" width="11.6" height="11.6"/>
<rect x="337.2" y="876.3" width="11.6" height="11.6"/>
<path d="M431.2,820.6 L436.8,831.9 L425.5,831.9 Z"/>
<path d="M483.3,822.5 L488.9,833.8 L477.6,833.8 Z"/>
<path d="M448.3,827.1 L454.0,838.3 L442.7,838.3 Z"/>
<path d="M465.8,830.4 L471.5,841.7 L460.2,841.7 Z"/>
<path d="M439.5,841.1 L445.2,852.4 L433.9,852.4 Z"/>
<path d="M474.8,842.3 L480.5,852.4 L469.2,852.4 Z"/>
<path d="M457.4,857.5 L463.0,868.8 L451.7,868.8 Z"/>
<path d="M448.3,867.1 L454.0,877.8 L442.7,877.8 Z"/>
<path d="M465.8,877.2 L471.5,888.5 L460.2,888.5 Z"/>
<path d="M457.4,897.0 L463.0,908.2 L451.7,908.2 Z"/>
<line x1="191.20" y1="855.50" x2="266.80" y2="855.50" stroke="#000" stroke-width="2.8"/>
<line x1="210.50" y1="823.90" x2="247.80" y2="823.90" stroke="#000" stroke-width="2.8"/>
<line x1="210.50" y1="887.10" x2="247.80" y2="887.10" stroke="#000" stroke-width="2.8"/>
<line x1="229.30" y1="823.90" x2="229.30" y2="887.10" stroke="#000" stroke-width="2.8"/>
<line x1="305.50" y1="854.50" x2="380.50" y2="854.50" stroke="#000" stroke-width="2.8"/>
<line x1="325.00" y1="836.70" x2="362.00" y2="836.70" stroke="#000" stroke-width="2.8"/>
<line x1="325.00" y1="872.90" x2="362.00" y2="872.90" stroke="#000" stroke-width="2.8"/>
<line x1="343.80" y1="836.70" x2="343.80" y2="872.90" stroke="#000" stroke-width="2.8"/>
<line x1="419.20" y1="853.60" x2="495.10" y2="853.60" stroke="#000" stroke-width="2.8"/>
<line x1="438.40" y1="828.20" x2="476.00" y2="828.20" stroke="#000" stroke-width="2.8"/>
<line x1="438.40" y1="879.50" x2="476.00" y2="879.50" stroke="#000" stroke-width="2.8"/>
<line x1="457.40" y1="828.20" x2="457.40" y2="879.50" stroke="#000" stroke-width="2.8"/>
<circle cx="1232.9" cy="780.5" r="5.8"/>
<circle cx="1250.3" cy="789.1" r="5.8"/>
<circle cx="1212.8" cy="797.6" r="5.8"/>
<circle cx="1227.2" cy="802.9" r="5.8"/>
<circle cx="1241.7" cy="807.5" r="5.8"/>
<circle cx="1256.2" cy="805.5" r="5.8"/>
<circle cx="1270.7" cy="800.9" r="5.8"/>
<circle cx="1212.1" cy="820.7" r="5.8"/>
<circle cx="1219.3" cy="822.0" r="5.8"/>
<circle cx="1224.6" cy="826.6" r="5.8"/>
<circle cx="1231.8" cy="829.9" r="5.8"/>
<circle cx="1239.7" cy="831.8" r="5.8"/>
<circle cx="1247.0" cy="829.9" r="5.8"/>
<circle cx="1253.6" cy="826.6" r="5.8"/>
<circle cx="1260.8" cy="823.3" r="5.8"/>
<circle cx="1266.7" cy="821.3" r="5.8"/>
<circle cx="1271.3" cy="820.7" r="5.8"/>
<circle cx="1217.4" cy="846.3" r="5.8"/>
<circle cx="1232.5" cy="843.0" r="5.8"/>
<circle cx="1250.3" cy="840.4" r="5.8"/>
<circle cx="1266.1" cy="844.3" r="5.8"/>
<circle cx="1226.6" cy="853.6" r="5.8"/>
<circle cx="1236.4" cy="857.5" r="5.8"/>
<circle cx="1246.3" cy="854.2" r="5.8"/>
<circle cx="1256.2" cy="851.6" r="5.8"/>
<circle cx="1212.1" cy="862.1" r="5.8"/>
<circle cx="1219.3" cy="865.4" r="5.8"/>
<circle cx="1226.6" cy="868.0" r="5.8"/>
<circle cx="1233.8" cy="872.6" r="5.8"/>
<circle cx="1241.1" cy="877.9" r="5.8"/>
<circle cx="1248.9" cy="871.3" r="5.8"/>
<circle cx="1255.5" cy="867.4" r="5.8"/>
<circle cx="1263.4" cy="864.7" r="5.8"/>
<circle cx="1270.7" cy="861.4" r="5.8"/>
<circle cx="1250.3" cy="889.7" r="5.8"/>
<circle cx="1232.9" cy="896.1" r="5.8"/>
<circle cx="1241.1" cy="843.7" r="5.8"/>
<rect x="1332.3" y="799.8" width="11.8" height="11.8"/>
<rect x="1318.2" y="815.6" width="11.8" height="11.8"/>
<rect x="1349.8" y="815.0" width="11.8" height="11.8"/>
<rect x="1367.3" y="813.3" width="11.8" height="11.8"/>
<rect x="1381.4" y="821.2" width="11.8" height="11.8"/>
<rect x="1330.6" y="829.7" width="11.8" height="11.8"/>
<rect x="1343.0" y="829.1" width="11.8" height="11.8"/>
<rect x="1356.0" y="828.6" width="11.8" height="11.8"/>
<rect x="1368.4" y="829.7" width="11.8" height="11.8"/>
<rect x="1341.3" y="844.4" width="11.8" height="11.8"/>
<rect x="1357.1" y="838.7" width="11.8" height="11.8"/>
<rect x="1325.5" y="848.9" width="11.8" height="11.8"/>
<rect x="1374.0" y="847.7" width="11.8" height="11.8"/>
<rect x="1320.5" y="855.6" width="11.8" height="11.8"/>
<rect x="1378.5" y="855.6" width="11.8" height="11.8"/>
<rect x="1335.7" y="852.3" width="11.8" height="11.8"/>
<rect x="1344.7" y="850.0" width="11.8" height="11.8"/>
<rect x="1354.8" y="851.1" width="11.8" height="11.8"/>
<rect x="1365.0" y="852.3" width="11.8" height="11.8"/>
<rect x="1327.8" y="859.0" width="11.8" height="11.8"/>
<rect x="1370.6" y="859.0" width="11.8" height="11.8"/>
<rect x="1335.7" y="866.9" width="11.8" height="11.8"/>
<rect x="1344.7" y="865.8" width="11.8" height="11.8"/>
<rect x="1354.8" y="866.9" width="11.8" height="11.8"/>
<rect x="1363.9" y="866.9" width="11.8" height="11.8"/>
<rect x="1337.9" y="870.3" width="11.8" height="11.8"/>
<rect x="1349.2" y="873.1" width="11.8" height="11.8"/>
<rect x="1362.7" y="870.3" width="11.8" height="11.8"/>
<rect x="1358.2" y="896.8" width="11.8" height="11.8"/>
<rect x="1341.3" y="903.6" width="11.8" height="11.8"/>
<path d="M1469.7,809.5 L1475.6,820.8 L1463.8,820.8 Z"/>
<path d="M1460.8,821.1 L1466.7,832.2 L1454.9,832.2 Z"/>
<path d="M1478.6,831.6 L1484.5,843.4 L1472.7,843.4 Z"/>
<path d="M1469.7,860.1 L1475.6,871.7 L1463.8,871.7 Z"/>
<path d="M1461.1,880.9 L1467.0,892.1 L1455.2,892.1 Z"/>
<path d="M1478.6,895.4 L1484.5,906.6 L1472.7,906.6 Z"/>
<path d="M1469.7,919.1 L1475.6,930.9 L1463.8,930.9 Z"/>
<line x1="1203.90" y1="839.10" x2="1279.20" y2="839.10" stroke="#000" stroke-width="2.9"/>
<line x1="1223.30" y1="811.40" x2="1260.40" y2="811.40" stroke="#000" stroke-width="2.9"/>
<line x1="1223.30" y1="866.70" x2="1260.40" y2="866.70" stroke="#000" stroke-width="2.9"/>
<line x1="1241.70" y1="811.40" x2="1241.70" y2="866.70" stroke="#000" stroke-width="2.9"/>
<line x1="1317.70" y1="853.60" x2="1393.50" y2="853.60" stroke="#000" stroke-width="2.9"/>
<line x1="1337.00" y1="828.80" x2="1374.30" y2="828.80" stroke="#000" stroke-width="2.9"/>
<line x1="1337.00" y1="877.90" x2="1374.30" y2="877.90" stroke="#000" stroke-width="2.9"/>
<line x1="1355.30" y1="828.80" x2="1355.30" y2="877.90" stroke="#000" stroke-width="2.9"/>
<line x1="1431.80" y1="865.10" x2="1507.50" y2="865.10" stroke="#000" stroke-width="2.9"/>
<line x1="1451.20" y1="824.30" x2="1488.70" y2="824.30" stroke="#000" stroke-width="2.9"/>
<line x1="1451.20" y1="906.30" x2="1488.70" y2="906.30" stroke="#000" stroke-width="2.9"/>
<line x1="1469.70" y1="824.30" x2="1469.70" y2="906.30" stroke="#000" stroke-width="2.9"/>
</svg></body></html>
